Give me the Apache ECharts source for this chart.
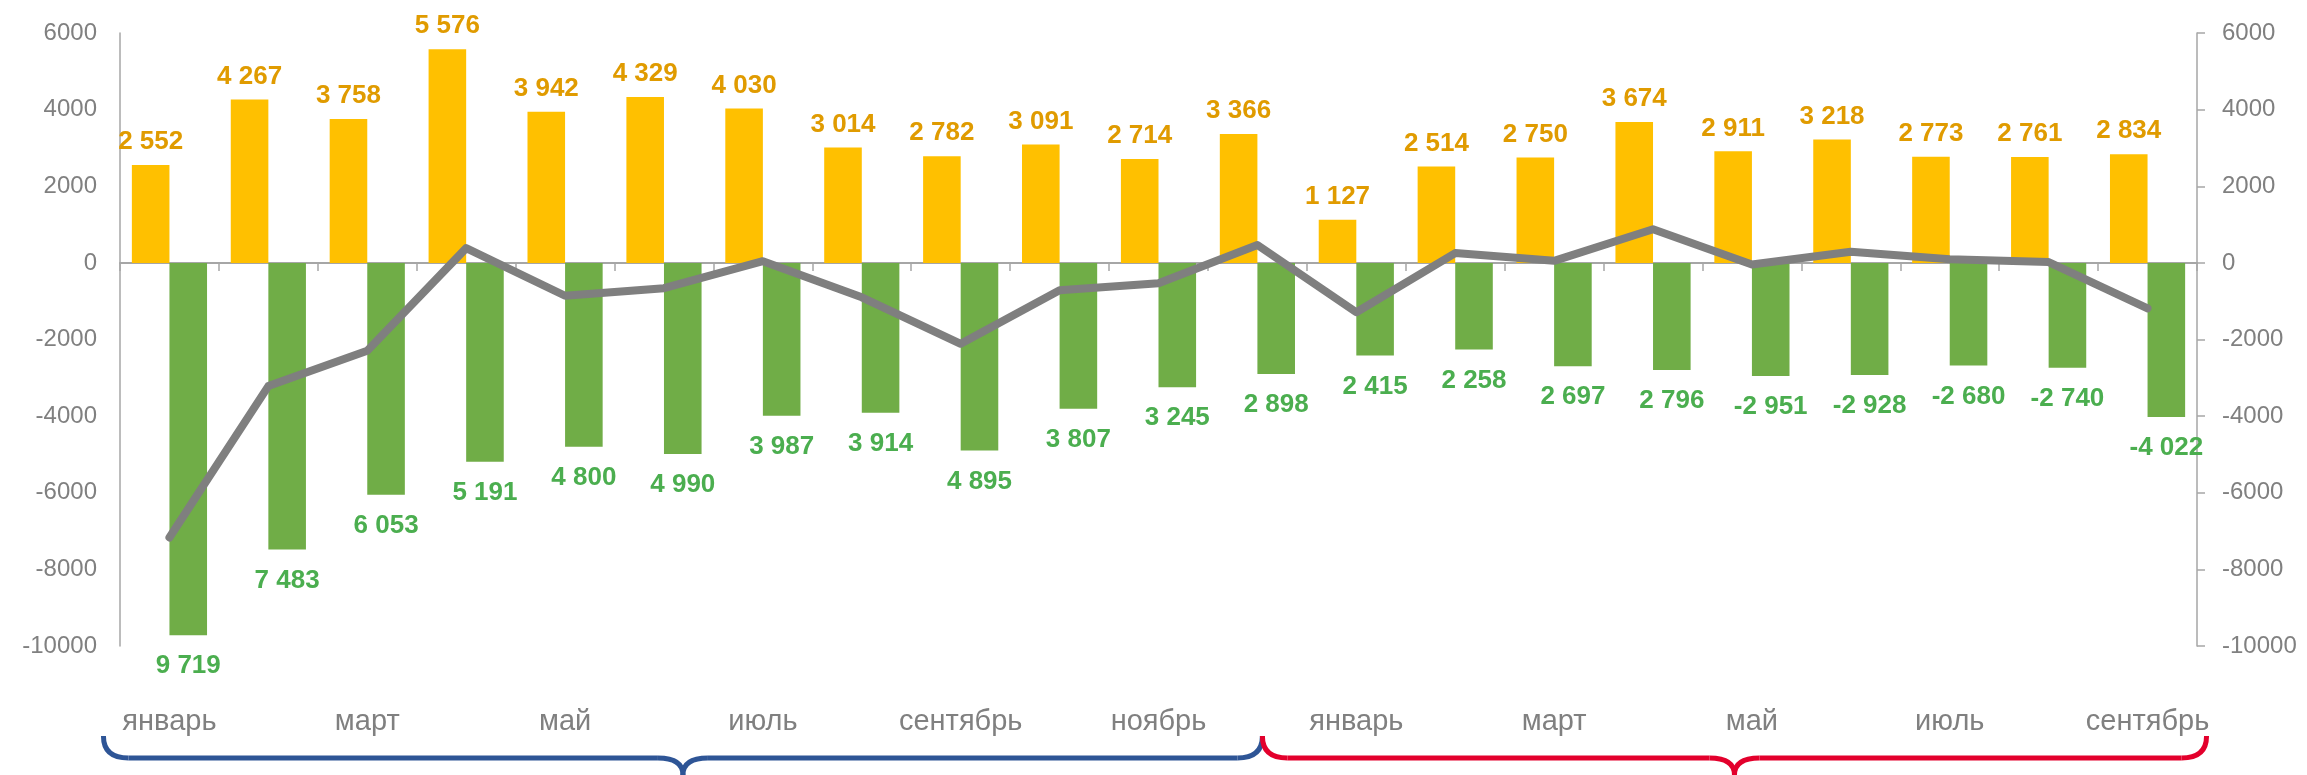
<!DOCTYPE html>
<html>
<head>
<meta charset="utf-8">
<script src="https://cdn.jsdelivr.net/npm/echarts@6/dist/echarts.min.js"></script>
<style>
html,body{margin:0;padding:0;background:#fff;}
#c{width:2307px;height:775px;}
</style>
</head>
<body>
<div id="c"></div>
<script>
var months = ['январь','февраль','март','апрель','май','июнь','июль','август','сентябрь','октябрь','ноябрь','декабрь',
              'январь','февраль','март','апрель','май','июнь','июль','август','сентябрь'];
var inflow = [2552,4267,3758,5576,3942,4329,4030,3014,2782,3091,2714,3366,
              1127,2514,2750,3674,2911,3218,2773,2761,2834];
var outflow = [-9719,-7483,-6053,-5191,-4800,-4990,-3987,-3914,-4895,-3807,-3245,-2898,
               -2415,-2258,-2697,-2796,-2951,-2928,-2680,-2740,-4022];
var outflowLabels = ['9 719','7 483','6 053','5 191','4 800','4 990','3 987','3 914','4 895','3 807','3 245','2 898',
                     '2 415','2 258','2 697','2 796','-2 951','-2 928','-2 680','-2 740','-4 022'];
var balance = [-7167,-3216,-2295,385,-858,-661,43,-900,-2113,-716,-531,468,
               -1288,256,53,878,-40,290,93,21,-1188];
var yTicks = {min:-10000, max:6000, interval:2000};

var FONT = "'Liberation Sans', Arial, sans-serif";
function fmt(v){ return String(v).replace(/\B(?=(\d{3})+(?!\d))/g,' '); }

var chart = echarts.init(document.getElementById('c'), null, {renderer:'canvas'});
var axisGray = '#A6A6A6';
var yLabel = {color:'#808080', fontSize:24, fontFamily:FONT, formatter:function(v){return String(v);}};
var yAxisBase = {
  type:'value', min:yTicks.min, max:yTicks.max, interval:yTicks.interval,
  splitLine:{show:false},
  axisLine:{show:true, lineStyle:{color:axisGray, width:1.5}}
};
var option = {
  animation:false,
  backgroundColor:'#fff',
  grid:{left:120, right:110, top:33, bottom:129, containLabel:false},
  xAxis:[
    {type:'category', data:months, position:'bottom',
     axisLine:{onZero:true, lineStyle:{color:axisGray, width:2}},
     axisTick:{show:true, length:8, lineStyle:{color:axisGray, width:1.5}},
     axisLabel:{show:false}, z:1},
    {type:'category', data:months, position:'bottom',
     axisLine:{show:false, onZero:false}, axisTick:{show:false},
     axisLabel:{interval:1, color:'#808080', fontSize:29, fontFamily:FONT, margin:61}}
  ],
  yAxis:[
    Object.assign({}, yAxisBase, {position:'left', axisTick:{show:false},
      axisLabel:Object.assign({}, yLabel, {margin:23})}),
    Object.assign({}, yAxisBase, {position:'right',
      axisTick:{show:true, length:8, lineStyle:{color:axisGray, width:1.5}},
      axisLabel:Object.assign({}, yLabel, {margin:25})})
  ],
  series:[
    {type:'bar', name:'inflow', data:inflow, xAxisIndex:0, yAxisIndex:0,
     barGap:'0%', barCategoryGap:'24%',
     itemStyle:{color:'#FFC000'},
     label:{show:true, position:'top', distance:10, color:'#E09B00', fontSize:26, fontWeight:'bold', fontFamily:FONT,
            formatter:function(p){return fmt(p.value);}}},
    {type:'bar', name:'outflow', data:outflow, xAxisIndex:0, yAxisIndex:0,
     barGap:'0%', barCategoryGap:'24%',
     itemStyle:{color:'#70AD47'},
     label:{show:true, position:'bottom', distance:18, color:'#4BAE4F', fontSize:26, fontWeight:'bold', fontFamily:FONT,
            formatter:function(p){return outflowLabels[p.dataIndex];}}},
    {type:'line', name:'balance', data:balance, xAxisIndex:0, yAxisIndex:0,
     symbol:'none', lineStyle:{color:'#7F7F7F', width:8, join:'round', cap:'round'}, z:5}
  ]
};
chart.setOption(option);

// braces under the two years
function braceParts(x0, x1, yTop, yLine, yCusp, r, color){
  var xm = (x0 + x1) / 2;
  var st = {stroke:color, lineWidth:5, fill:null, lineCap:'butt'};
  function q(ax, ay, cx, cy, bx, by){
    return {type:'bezierCurve', shape:{x1:ax, y1:ay, cpx1:cx, cpy1:cy, x2:bx, y2:by}, style:st, silent:true};
  }
  function ln(ax, ay, bx, by){
    return {type:'line', shape:{x1:ax, y1:ay, x2:bx, y2:by}, style:st, silent:true};
  }
  return [
    q(x0, yTop, x0, yLine, x0 + r, yLine),
    ln(x0 + r, yLine, xm - r, yLine),
    q(xm - r, yLine, xm, yLine, xm, yCusp),
    q(xm, yCusp, xm, yLine, xm + r, yLine),
    ln(xm + r, yLine, x1 - r, yLine),
    q(x1 - r, yLine, x1, yLine, x1, yTop)
  ];
}
var xStart = chart.convertToPixel({xAxisIndex:0}, 0) - 66;
var xJoin = chart.convertToPixel({xAxisIndex:0}, 11) + 5;
var xEnd = chart.convertToPixel({xAxisIndex:0}, 20) + 59;
chart.setOption({
  graphic: braceParts(xStart, xJoin, 736, 758, 775, 25, '#2E5596')
           .concat(braceParts(xJoin, xEnd, 736, 758, 775, 25, '#E3002C'))
});
</script>
</body>
</html>
